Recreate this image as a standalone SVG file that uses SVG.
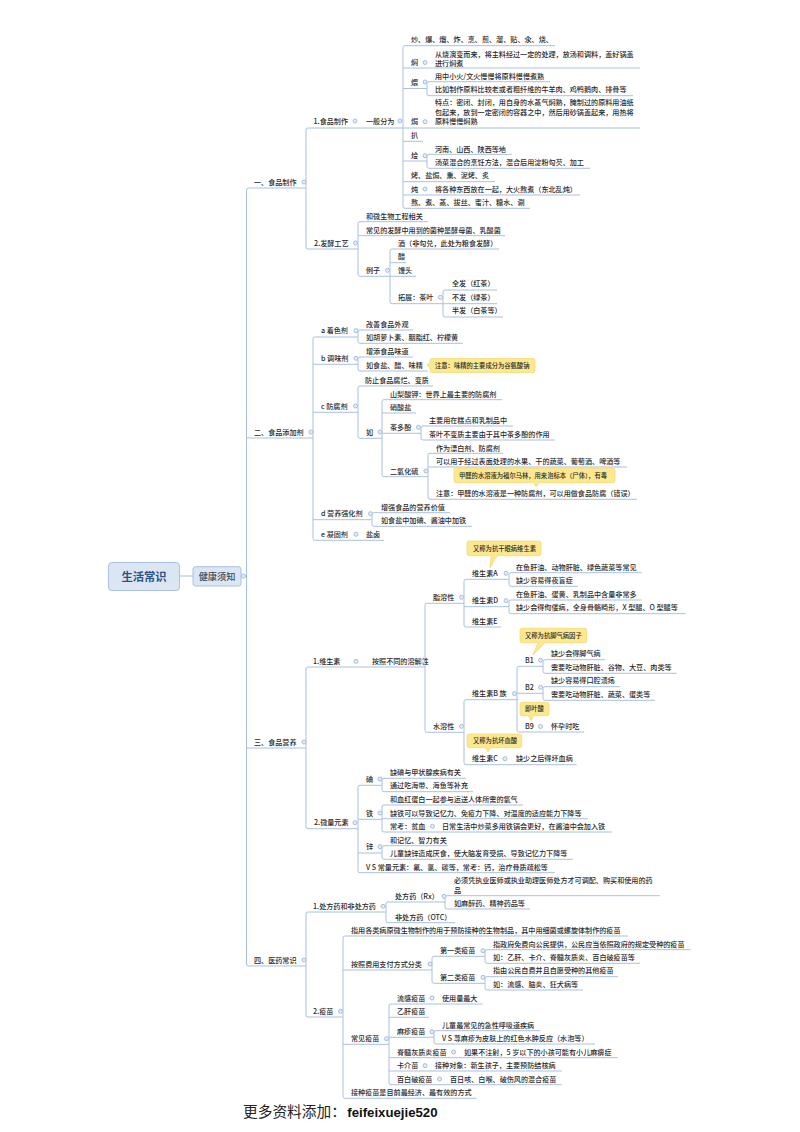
<svg xmlns="http://www.w3.org/2000/svg" width="800" height="1132" viewBox="0 0 800 1132">
<style>
text{font-family:"Noto Sans CJK SC","Noto Sans",sans-serif;font-size:7.1px;font-weight:500;fill:#2a2a2a}
.c{fill:none;stroke:#a9c0e4;stroke-width:1}
.m{fill:#e6edf7;stroke:#a3bce2;stroke-width:1}
.n{fill:#dce6f2;stroke:#a9c0e4;stroke-width:1}
.k{fill:#fce88f;stroke:#f5d976;stroke-width:.8}
.t{font-size:6.3px}
</style>
<rect width="800" height="1132" fill="#fff"/>
<g id="connectors" class="c">
<path d="M180 576H193M241 576H246.5"/>
<path d="M306 188H248.5Q246.5 188 246.5 190V964Q246.5 966 248.5 966H306M246.5 438H313M246.5 748H306"/>
<path d="M403 128H308Q306 128 306 130V247Q306 249 308 249H358"/>
<path d="M555 45.7H405Q403 45.7 403 47.7V206.300Q403 208.300 405 208.300H530M403 68H640M403 88.500H427M403 128H640M403 141.300H423M403 161H427M403 181.700H495M403 195H580"/>
<path d="M550 81.700H429Q427 81.700 427 83.700V93.700Q427 95.700 429 95.700H633"/>
<path d="M511.700 154.300H429Q427 154.300 427 156.300V166.300Q427 168.300 429 168.300H590"/>
<path d="M428 221.700H360Q358 221.700 358 223.700V274.300Q358 276.300 360 276.300H390M358 235.700H505"/>
<path d="M499 249H392Q390 249 390 251V301.700Q390 303.700 392 303.700H443M390 262.700H406M390 276.300H416"/>
<path d="M497 290H445Q443 290 443 292V315Q443 317 445 317H503M443 303.700H497"/>
<path d="M358 337H315Q313 337 313 339V538.300Q313 540.300 315 540.300H384M313 364.300H358M313 412.300H358M313 519.700H372"/>
<path d="M413 330H360Q358 330 358 332V341.300Q358 343.300 360 343.300H463"/>
<path d="M413 357H360Q358 357 358 359V369Q358 371 360 371H428"/>
<path d="M433 386H360Q358 386 358 388V436.300Q358 438.300 360 438.300H382"/>
<path d="M502 399.700H384Q382 399.700 382 401.700V474.700Q382 476.700 384 476.700H428M382 413H416M382 433.300H421"/>
<path d="M513 426H423Q421 426 421 428V438Q421 440 423 440H555"/>
<path d="M503 453.300H430Q428 453.300 428 455.300V497.300Q428 499.300 430 499.300H637M428 467H627"/>
<path d="M450 512.700H374Q372 512.700 372 514.700V524.300Q372 526.300 374 526.300H472"/>
<path d="M425 667H308Q306 667 306 669V826.700Q306 828.700 308 828.700H358"/>
<path d="M464 603.300H427Q425 603.300 425 605.300V730.300Q425 732.300 427 732.300H464"/>
<path d="M509 579.300H466Q464 579.300 464 581.300V625Q464 627 466 627H501M464 606.700H509"/>
<path d="M641.700 572.700H511Q509 572.700 509 574.700V584.300Q509 586.300 511 586.300H578"/>
<path d="M641.700 600H511Q509 600 509 602V611.700Q509 613.700 511 613.700H685.700"/>
<path d="M518 699.700H466Q464 699.700 464 701.700V762.700Q464 764.700 466 764.700H576.700"/>
<path d="M543 666.300H519Q517 666.300 517 668.300V730Q517 732 519 732H584M517 693.300H543"/>
<path d="M605 659.700H545Q543 659.700 543 661.700V671.300Q543 673.300 545 673.300H676.700"/>
<path d="M620 686.700H545Q543 686.700 543 688.700V698.300Q543 700.300 545 700.300H655"/>
<path d="M382 785.300H360Q358 785.300 358 787.300V870.700Q358 872.700 360 872.700H555M358 819.300H382M358 853H382"/>
<path d="M466 778.300H384Q382 778.300 382 780.300V789.700Q382 791.700 384 791.700H473"/>
<path d="M523 805H384Q382 805 382 807V830Q382 832 384 832H611.700M382 818.700H588"/>
<path d="M448 845.700H384Q382 845.700 382 847.700V857.300Q382 859.300 384 859.300H573"/>
<path d="M386 912H308Q306 912 306 914V1015Q306 1017 308 1017H343"/>
<path d="M445 902H388Q386 902 386 904V920.700Q386 922.700 388 922.700H455"/>
<path d="M660 895.700H447Q445 895.700 445 897.700V907Q445 909 447 909H530"/>
<path d="M628 936H345Q343 936 343 938V1096.300Q343 1098.300 345 1098.300H476.700M343 970H432M343 1044.300H389"/>
<path d="M485 956.300H434Q432 956.300 432 958.300V981.300Q432 983.300 434 983.300H485"/>
<path d="M690.700 949.700H487Q485 949.700 485 951.700V961.300Q485 963.300 487 963.300H640"/>
<path d="M618 976.700H487Q485 976.700 485 978.700V988Q485 990 487 990H583"/>
<path d="M482.700 1004H391Q389 1004 389 1006V1082.700Q389 1084.700 391 1084.700H561.700M389 1017.300H429M389 1037.300H434M389 1057.700H618M389 1071H561.700"/>
<path d="M540 1030.700H436Q434 1030.700 434 1032.700V1042Q434 1044 436 1044H595"/>
</g>
<g id="root"><rect class="n" x="108.500" y="562.500" width="71" height="28" rx="3.500"/><text x="144" y="580.500" text-anchor="middle" style="font-size:11.300px;font-weight:700;fill:#2f5285">生活常识</text></g>
<g id="main"><rect class="n" x="193" y="566.700" width="48" height="19.300" rx="2.500"/><text x="217" y="579.800" text-anchor="middle" style="font-size:9.200px;fill:#3d4a5e">健康须知</text><circle class="m" cx="243.500" cy="576" r="2"/></g>

<g id="s1"><text x="254" y="184.500">一、食品制作</text><circle class="m" cx="304" cy="182" r="2"/></g>
<g id="s2"><text x="254" y="434.500">二、食品添加剂</text><circle class="m" cx="311" cy="432" r="2"/></g>
<g id="s3"><text x="254" y="744.500">三、食品营养</text><circle class="m" cx="304" cy="742" r="2"/></g>
<g id="s4"><text x="254" y="962.500">四、医药常识</text><circle class="m" cx="304" cy="960" r="2"/></g>

<g id="a1"><text x="313.500" y="123.500">1.食品制作</text><circle class="m" cx="355" cy="121" r="2"/></g>
<g id="a2"><text x="366" y="123.500">一般分为</text><circle class="m" cx="400" cy="121" r="2"/></g>
<g id="a3"><text x="411" y="42.200">炒、爆、熘、炸、烹、煎、溜、贴、氽、烧、</text></g>
<g id="a4"><text x="411" y="65.200">焖</text><circle class="m" cx="425" cy="62.500" r="2"/><text x="435" y="56.500">从烧演变而来，将主料经过一定的处理，放汤和调料，盖好锅盖</text><text x="435" y="65.700">进行焖煮</text></g>
<g id="a5"><text x="411" y="84.800">煨</text><circle class="m" cx="425" cy="82" r="2"/><text x="435" y="78.500">用中小火/文火慢慢将原料慢慢煮熟</text><text x="435" y="92.200">比如制作原料比较老或者粗纤维的牛羊肉、鸡鸭鹅肉、排骨等</text></g>
<g id="a6"><text x="411" y="124.200">焗</text><circle class="m" cx="425" cy="121.700" r="2"/><text x="435" y="104.800">特点：密闭、封闭，用自身的水蒸气焖熟，腌制过的原料用油纸</text><text x="435" y="114.500">包起来，放到一定密闭的容器之中，然后用砂锅盖起来，用热将</text><text x="435" y="124.200">原料慢慢焖熟</text></g>
<g id="a7"><text x="411" y="138.200">扒</text></g>
<g id="a8"><text x="411" y="158.200">烩</text><circle class="m" cx="425" cy="155.700" r="2"/><text x="435" y="151.500">河南、山西、陕西等地</text><text x="435" y="164.800">汤菜混合的烹饪方法，混合后用淀粉勾芡、加工</text></g>
<g id="a9"><text x="411" y="178.200">烤、盐焗、熏、泥烤、炙</text></g>
<g id="a10"><text x="411" y="191.500">炖</text><circle class="m" cx="425" cy="189" r="2"/><text x="435" y="191.500">将各种东西放在一起，大火熬煮（东北乱炖）</text></g>
<g id="a11"><text x="411" y="204.800">熬、煮、蒸、拔丝、蜜汁、糖水、涮</text></g>

<g id="b1"><text x="314" y="245.500">2.发酵工艺</text><circle class="m" cx="355.500" cy="243" r="2"/></g>
<g id="b2"><text x="366" y="218.500">和微生物工程相关</text></g>
<g id="b3"><text x="366" y="232.500">常见的发酵中用到的菌种是酵母菌、乳酸菌</text></g>
<g id="b4"><text x="366" y="272.800">例子</text><circle class="m" cx="387.500" cy="270.300" r="2"/></g>
<g id="b5"><text x="398" y="245.800">酒（非勾兑，此处为粮食发酵）</text></g>
<g id="b6"><text x="398" y="259.200">醋</text></g>
<g id="b7"><text x="398" y="272.800">馒头</text></g>
<g id="b8"><text x="398" y="299.800">拓展：茶叶</text><circle class="m" cx="440.500" cy="297.300" r="2"/></g>
<g id="b9"><text x="452" y="286.200">全发（红茶）</text></g>
<g id="b10"><text x="452" y="299.800">不发（绿茶）</text></g>
<g id="b11"><text x="452" y="313.200">半发（白茶等）</text></g>

<g id="c1"><text x="321" y="333.200">a 着色剂</text><circle class="m" cx="356" cy="330.700" r="2"/></g>
<g id="c2"><text x="366" y="326.800">改善食品外观</text></g>
<g id="c3"><text x="366" y="340.200">如胡萝卜素、胭脂红、柠檬黄</text></g>
<g id="c4"><text x="321" y="360.800">b 调味剂</text><circle class="m" cx="356" cy="358.300" r="2"/></g>
<g id="c5"><text x="366" y="353.800">增添食品味道</text></g>
<g id="c6"><text x="366" y="367.800">如食盐、醋、味精</text></g>
<g id="c7"><path class="k" d="M432 358.500H533Q535 358.500 535 360.500V370.500Q535 372.500 533 372.500H432Q430 372.500 430 370.500V367.500L427 365L430 362.500V360.500Q430 358.500 432 358.500Z"/><text class="t" x="435" y="367.700">注意：味精的主要成分为谷氨酸钠</text></g>
<g id="c8"><text x="321" y="408.500">c 防腐剂</text><circle class="m" cx="355.500" cy="406" r="2"/></g>
<g id="c9"><text x="365" y="382.800">防止食品腐烂、变质</text></g>
<g id="c10"><text x="366" y="434.500">如</text><circle class="m" cx="380" cy="432" r="2"/></g>
<g id="c11"><text x="390" y="396.500">山梨酸钾：世界上最主要的防腐剂</text></g>
<g id="c12"><text x="390" y="410.200">硝酸盐</text></g>
<g id="c13"><text x="390" y="429.800">茶多酚</text><circle class="m" cx="418.500" cy="427.300" r="2"/><text x="429" y="423.200">主要用在糕点和乳制品中</text><text x="429" y="436.800">茶叶不变质主要由于其中茶多酚的作用</text></g>
<g id="c14"><text x="390" y="473.500">二氧化硫</text><circle class="m" cx="426" cy="471" r="2"/><text x="436" y="450.500">作为漂白剂、防腐剂</text><text x="436" y="463.800">可以用于经过表面处理的水果、干的蔬菜、葡萄酒、啤酒等</text><text x="436" y="496.200">注意：甲醛的水溶液是一种防腐剂，可以用做食品防腐（错误）</text></g>
<g id="c15"><path class="k" d="M456 468H613Q615 468 615 470V480.700Q615 482.700 613 482.700H539L536 487L534 482.700H456Q454 482.700 454 480.700V470Q454 468 456 468Z"/><text class="t" x="459" y="477.700">甲醛的水溶液为福尔马林，用来泡标本（尸体），有毒</text></g>
<g id="c16"><text x="321" y="516.200">d 营养强化剂</text><circle class="m" cx="370.500" cy="513.700" r="2"/><text x="381" y="509.500">增强食品的营养价值</text><text x="381" y="523.200">如食盐中加碘、酱油中加铁</text></g>
<g id="c17"><text x="321" y="536.800">e 凝固剂</text><circle class="m" cx="356" cy="534.300" r="2"/><text x="366" y="536.800">盐卤</text></g>

<g id="d1"><text x="313" y="663.800">1.维生素</text><circle class="m" cx="356" cy="661.300" r="2"/><text x="372" y="663.800">按照不同的溶解性</text><circle class="m" cx="422.700" cy="661.300" r="2"/></g>
<g id="d2"><text x="433" y="599.800">脂溶性</text><circle class="m" cx="461.500" cy="597.300" r="2"/></g>
<g id="d3"><path class="k" d="M469 541H539Q541 541 541 543V553.700Q541 555.700 539 555.700H497L490 567.700L491 555.700H469Q467 555.700 467 553.700V543Q467 541 469 541Z"/><text class="t" x="473" y="550.500">又称为抗干眼病维生素</text></g>
<g id="d4"><text x="472" y="575.800">维生素A</text><circle class="m" cx="506" cy="573.300" r="2"/><text x="516" y="569.500">在鱼肝油、动物肝脏、绿色蔬菜等常见</text><text x="516" y="582.800">缺少容易得夜盲症</text></g>
<g id="d5"><text x="472" y="603.200">维生素D</text><circle class="m" cx="506" cy="600.700" r="2"/><text x="516" y="596.500">在鱼肝油、蛋黄、乳制品中含量非常多</text><text x="516" y="609.800">缺少会得佝偻病，全身骨骼畸形，X 型腿、O 型腿等</text></g>
<g id="d6"><text x="472" y="623.500">维生素E</text></g>
<g id="d7"><text x="433" y="728.800">水溶性</text><circle class="m" cx="461.500" cy="726.300" r="2"/></g>
<g id="d8"><text x="472" y="696.200">维生素B 族</text><circle class="m" cx="514.500" cy="693.700" r="2"/></g>
<g id="d9"><path class="k" d="M522 628.300H584.700Q586.700 628.300 586.700 630.300V640.700Q586.700 642.700 584.700 642.700H545L533 655L538 642.700H522Q520 642.700 520 640.700V630.300Q520 628.300 522 628.300Z"/><text class="t" x="525" y="638">又称为抗脚气病因子</text></g>
<g id="d10"><text x="525" y="662.800">B1</text><circle class="m" cx="540.500" cy="660.300" r="2"/><text x="551" y="656.200">缺少会得脚气病</text><text x="551" y="670.200">需要吃动物肝脏、谷物、大豆、肉类等</text></g>
<g id="d11"><text x="525" y="689.800">B2</text><circle class="m" cx="540.500" cy="687.300" r="2"/><text x="551" y="683.200">缺少容易得口腔溃疡</text><text x="551" y="696.800">需要吃动物肝脏、蔬菜、蛋类等</text></g>
<g id="d12"><path class="k" d="M522 702.300H547Q549 702.300 549 704.300V713.700Q549 715.700 547 715.700H533.500L531 720.700L528.500 715.700H522Q520 715.700 520 713.700V704.300Q520 702.300 522 702.300Z"/><text class="t" x="525" y="711.300">即叶酸</text></g>
<g id="d13"><text x="525" y="728.800">B9</text><circle class="m" cx="540.500" cy="726.500" r="2"/><text x="551" y="728.800">怀孕时吃</text></g>
<g id="d14"><path class="k" d="M469 734H519.700Q521.700 734 521.700 736V745.700Q521.700 747.700 519.700 747.700H490.500L488 752L485.500 747.700H469Q467 747.700 467 745.700V736Q467 734 469 734Z"/><text class="t" x="473" y="743">又称为抗坏血酸</text></g>
<g id="d15"><text x="472" y="761.200">维生素C</text><circle class="m" cx="505" cy="758.700" r="2"/><text x="516" y="761.200">缺少之后得坏血病</text></g>

<g id="e1"><text x="314" y="825.200">2.微量元素</text><circle class="m" cx="355" cy="822.700" r="2"/></g>
<g id="e2"><text x="366" y="781.500">碘</text><circle class="m" cx="380" cy="779" r="2"/><text x="390" y="775.200">缺碘与甲状腺疾病有关</text><text x="390" y="788.200">通过吃海带、海鱼等补充</text></g>
<g id="e3"><text x="366" y="815.500">铁</text><circle class="m" cx="380" cy="813" r="2"/><text x="390" y="801.800">和血红蛋白一起参与运送人体所需的氧气</text><text x="390" y="815.500">缺铁可以导致记忆力、免疫力下降、对温度的适应能力下降等</text><text x="390" y="828.800">常考：贫血</text><circle class="m" cx="432.500" cy="826.300" r="2"/><text x="442" y="828.800">日常生活中炒菜多用铁锅会更好，在酱油中会加入铁</text></g>
<g id="e4"><text x="366" y="849.200">锌</text><circle class="m" cx="380" cy="846.700" r="2"/><text x="390" y="842.500">和记忆、智力有关</text><text x="390" y="855.800">儿童缺锌造成厌食，使大脑发育受损、导致记忆力下降等</text></g>
<g id="e5"><text x="366" y="869.500">V S 常量元素：氟、氯、碳等，常考：钙，治疗骨质疏松等</text></g>

<g id="f1"><text x="313" y="908.800">1.处方药和非处方药</text><circle class="m" cx="383" cy="906.300" r="2"/></g>
<g id="f2"><text x="395" y="898.800">处方药（Rx）</text><circle class="m" cx="444" cy="896.300" r="2"/><text x="454" y="882.500">必须凭执业医师或执业助理医师处方才可调配、购买和使用的药</text><text x="454" y="892.500">品</text><text x="454" y="905.800">如麻醉药、精神药品等</text></g>
<g id="f3"><text x="395" y="919.500">非处方药（OTC）</text></g>
<g id="f4"><text x="313" y="1013.800">2.疫苗</text><circle class="m" cx="340.500" cy="1011.300" r="2"/></g>
<g id="f5"><text x="351" y="932.800">指用各类病原微生物制作的用于预防接种的生物制品，其中用细菌或螺旋体制作的疫苗</text></g>
<g id="f6"><text x="351" y="966.500">按照费用支付方式分类</text><circle class="m" cx="430" cy="964" r="2"/></g>
<g id="f7"><text x="440" y="953.200">第一类疫苗</text><circle class="m" cx="483" cy="950.700" r="2"/><text x="493" y="946.500">指政府免费向公民提供，公民应当依照政府的规定受种的疫苗</text><text x="493" y="959.800">如：乙肝、卡介、脊髓灰质炎、百白破疫苗等</text></g>
<g id="f8"><text x="440" y="979.800">第二类疫苗</text><circle class="m" cx="483" cy="977.300" r="2"/><text x="493" y="973.200">指由公民自费并且自愿受种的其他疫苗</text><text x="493" y="986.800">如：流感、脑炎、狂犬病等</text></g>
<g id="f9"><text x="351" y="1041.200">常见疫苗</text><circle class="m" cx="386.500" cy="1038.700" r="2"/></g>
<g id="f10"><text x="397" y="1000.500">流感疫苗</text><circle class="m" cx="432" cy="998" r="2"/><text x="442" y="1000.500">使用量最大</text></g>
<g id="f11"><text x="397" y="1014.200">乙肝疫苗</text></g>
<g id="f12"><text x="397" y="1034.200">麻疹疫苗</text><circle class="m" cx="432" cy="1031.700" r="2"/><text x="442" y="1027.500">儿童最常见的急性呼吸道疾病</text><text x="442" y="1040.800">V S 荨麻疹为皮肤上的红色水肿反应（水泡等）</text></g>
<g id="f13"><text x="397" y="1054.500">脊髓灰质炎疫苗</text><circle class="m" cx="453.500" cy="1052" r="2"/><text x="464" y="1054.500">如果不注射，5 岁以下的小孩可能有小儿麻痹症</text></g>
<g id="f14"><text x="397" y="1068.200">卡介苗</text><circle class="m" cx="425" cy="1065.700" r="2"/><text x="435" y="1068.200">接种对象：新生孩子，主要预防结核病</text></g>
<g id="f15"><text x="397" y="1081.500">百白破疫苗</text><circle class="m" cx="439.500" cy="1079" r="2"/><text x="450" y="1081.500">百日咳、白喉、破伤风的混合疫苗</text></g>
<g id="f16"><text x="351" y="1095.200">接种疫苗是目前最经济、最有效的方式</text></g>

<g id="footer"><text x="243" y="1116.700" style="font-size:14.700px;font-weight:400;fill:#222">更多资料添加：<tspan x="347.300" style="font-family:'Liberation Sans',sans-serif;font-size:13.200px;font-weight:700;fill:#111">feifeixuejie520</tspan></text></g>
</svg>
